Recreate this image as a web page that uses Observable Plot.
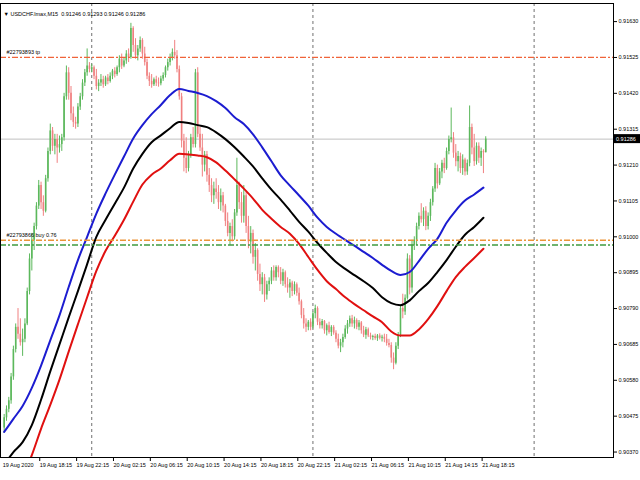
<!DOCTYPE html>
<html><head><meta charset="utf-8">
<script src="https://cdn.jsdelivr.net/npm/d3@7"></script>
<script src="https://cdn.jsdelivr.net/npm/@observablehq/plot@0.6"></script>
<style>body{margin:0;background:#fff}</style>
</head><body><div id="chart"></div>
<script>
// ---- header / labels ----
const headerText = "\u25BC USDCHF.lmax,M15  0.91246 0.91293 0.91246 0.91286";
const tpLabel = "#22793893 tp";
const buyLabel = "#22793866 buy 0.76";
const firstDateLabel = "19 Aug 2020";
const tpPrice = 0.91525;
const buyPrice = 0.90990;
const openLevel = 0.90976;
const lastPrice = 0.91286;

// ---- x axis (bar index, M15 bars from 19 Aug 14:30) ----
const tickIdx = [15,31,47,63,79,95,111,127,143,159,175,191,207];
const tickLabels = ["19 Aug 18:15","19 Aug 22:15","20 Aug 02:15","20 Aug 06:15","20 Aug 10:15","20 Aug 14:15","20 Aug 18:15","20 Aug 22:15","21 Aug 02:15","21 Aug 06:15","21 Aug 10:15","21 Aug 14:15","21 Aug 18:15"];
const daySeparators = [38,134,230];

// ---- y axis ----
const yTicks = [0.91630,0.91525,0.91420,0.91315,0.91210,0.91105,0.91000,0.90895,0.90790,0.90685,0.90580,0.90475,0.90370];

// ---- candles ----
const open = [
0.90440,0.90470,0.90495,0.90520,0.90590,0.90670,0.90735,0.90715,0.90690,0.90700,
0.90745,0.90840,0.90935,0.90990,0.91030,0.91090,0.91150,0.91100,0.91075,0.91170,
0.91250,0.91310,0.91265,0.91285,0.91260,0.91270,0.91290,0.91410,0.91480,0.91420,
0.91360,0.91335,0.91330,0.91380,0.91410,0.91450,0.91480,0.91500,0.91490,0.91495,
0.91470,0.91440,0.91450,0.91460,0.91445,0.91465,0.91455,0.91470,0.91485,0.91475,
0.91495,0.91520,0.91500,0.91515,0.91535,0.91525,0.91610,0.91560,0.91530,0.91550,
0.91575,0.91535,0.91510,0.91470,0.91455,0.91445,0.91460,0.91450,0.91448,0.91462,
0.91472,0.91495,0.91510,0.91525,0.91540,0.91530,0.91490,0.91410,0.91280,0.91230,
0.91200,0.91240,0.91290,0.91270,0.91480,0.91300,0.91260,0.91210,0.91240,0.91180,
0.91150,0.91120,0.91140,0.91130,0.91100,0.91120,0.91090,0.91045,0.91010,0.91030,
0.91000,0.91070,0.91150,0.91100,0.91060,0.91120,0.91030,0.90985,0.91010,0.90940,
0.90960,0.90890,0.90860,0.90880,0.90830,0.90860,0.90870,0.90900,0.90880,0.90910,
0.90895,0.90870,0.90895,0.90860,0.90850,0.90865,0.90840,0.90860,0.90835,0.90810,
0.90770,0.90745,0.90735,0.90750,0.90735,0.90775,0.90790,0.90750,0.90740,0.90752,
0.90725,0.90740,0.90720,0.90735,0.90718,0.90700,0.90680,0.90690,0.90705,0.90730,
0.90745,0.90760,0.90745,0.90755,0.90735,0.90748,0.90725,0.90712,0.90728,0.90710,
0.90705,0.90708,0.90702,0.90710,0.90703,0.90706,0.90700,0.90688,0.90682,0.90645,
0.90630,0.90680,0.90712,0.90790,0.90780,0.90820,0.90935,0.90850,0.90975,0.90990,
0.91030,0.91060,0.91050,0.91075,0.91030,0.91060,0.91100,0.91140,0.91200,0.91155,
0.91190,0.91215,0.91200,0.91250,0.91285,0.91290,0.91245,0.91220,0.91235,0.91200,
0.91225,0.91190,0.91215,0.91320,0.91260,0.91220,0.91265,0.91230,0.91250,0.91246];
const high = [
0.90480,0.90505,0.90530,0.90600,0.90680,0.90745,0.90790,0.90760,0.90730,0.90760,
0.90850,0.90950,0.91010,0.91040,0.91100,0.91165,0.91160,0.91120,0.91180,0.91260,
0.91330,0.91320,0.91300,0.91300,0.91295,0.91300,0.91420,0.91500,0.91495,0.91440,
0.91380,0.91350,0.91390,0.91420,0.91460,0.91490,0.91550,0.91510,0.91505,0.91500,
0.91490,0.91460,0.91475,0.91470,0.91470,0.91475,0.91480,0.91490,0.91495,0.91500,
0.91530,0.91535,0.91525,0.91545,0.91550,0.91625,0.91615,0.91580,0.91560,0.91585,
0.91580,0.91555,0.91520,0.91480,0.91475,0.91465,0.91470,0.91465,0.91470,0.91480,
0.91500,0.91520,0.91535,0.91550,0.91575,0.91545,0.91500,0.91420,0.91300,0.91290,
0.91250,0.91300,0.91320,0.91490,0.91495,0.91320,0.91300,0.91250,0.91250,0.91200,
0.91170,0.91160,0.91170,0.91150,0.91140,0.91130,0.91095,0.91070,0.91040,0.91050,
0.91080,0.91230,0.91160,0.91130,0.91150,0.91130,0.91060,0.91030,0.91020,0.90980,
0.90965,0.90920,0.90895,0.90890,0.90870,0.90880,0.90910,0.90915,0.90915,0.90915,
0.90910,0.90905,0.90900,0.90880,0.90875,0.90870,0.90868,0.90865,0.90850,0.90815,
0.90790,0.90760,0.90755,0.90760,0.90780,0.90800,0.90795,0.90760,0.90758,0.90755,
0.90745,0.90750,0.90740,0.90740,0.90725,0.90715,0.90700,0.90715,0.90740,0.90755,
0.90768,0.90770,0.90765,0.90760,0.90755,0.90752,0.90738,0.90735,0.90733,0.90718,
0.90712,0.90715,0.90714,0.90716,0.90712,0.90715,0.90714,0.90700,0.90690,0.90660,
0.90690,0.90720,0.90800,0.90832,0.90830,0.90950,0.90945,0.90990,0.91000,0.91040,
0.91070,0.91097,0.91085,0.91088,0.91070,0.91110,0.91147,0.91215,0.91210,0.91200,
0.91224,0.91230,0.91260,0.91295,0.91377,0.91305,0.91270,0.91250,0.91245,0.91240,
0.91230,0.91225,0.91383,0.91330,0.91300,0.91275,0.91275,0.91260,0.91255,0.91293];
const low = [
0.90425,0.90460,0.90485,0.90510,0.90580,0.90660,0.90700,0.90680,0.90650,0.90690,
0.90740,0.90830,0.90900,0.90960,0.91020,0.91080,0.91080,0.91060,0.91070,0.91160,
0.91240,0.91250,0.91240,0.91215,0.91245,0.91250,0.91280,0.91400,0.91400,0.91340,
0.91320,0.91315,0.91320,0.91370,0.91400,0.91440,0.91470,0.91480,0.91480,0.91460,
0.91430,0.91425,0.91440,0.91435,0.91440,0.91445,0.91450,0.91460,0.91465,0.91470,
0.91480,0.91490,0.91495,0.91505,0.91510,0.91520,0.91540,0.91520,0.91515,0.91540,
0.91520,0.91500,0.91460,0.91440,0.91435,0.91440,0.91440,0.91438,0.91442,0.91455,
0.91465,0.91485,0.91500,0.91515,0.91520,0.91480,0.91400,0.91260,0.91190,0.91185,
0.91190,0.91230,0.91260,0.91260,0.91290,0.91250,0.91175,0.91190,0.91160,0.91130,
0.91100,0.91095,0.91110,0.91080,0.91075,0.91070,0.91030,0.91000,0.90975,0.90985,
0.90990,0.91060,0.91080,0.91040,0.91040,0.91010,0.90965,0.90950,0.90920,0.90900,
0.90870,0.90840,0.90830,0.90808,0.90815,0.90840,0.90860,0.90870,0.90870,0.90880,
0.90860,0.90855,0.90850,0.90835,0.90820,0.90825,0.90830,0.90826,0.90800,0.90760,
0.90730,0.90720,0.90725,0.90725,0.90730,0.90760,0.90740,0.90730,0.90730,0.90715,
0.90710,0.90715,0.90708,0.90712,0.90690,0.90672,0.90661,0.90675,0.90700,0.90715,
0.90735,0.90735,0.90730,0.90728,0.90725,0.90715,0.90705,0.90700,0.90705,0.90698,
0.90696,0.90697,0.90694,0.90698,0.90692,0.90690,0.90680,0.90675,0.90630,0.90611,
0.90625,0.90670,0.90705,0.90760,0.90770,0.90815,0.90830,0.90835,0.90960,0.90975,
0.91020,0.91040,0.91030,0.91018,0.91020,0.91045,0.91090,0.91130,0.91140,0.91150,
0.91170,0.91185,0.91195,0.91240,0.91275,0.91230,0.91205,0.91190,0.91185,0.91180,
0.91178,0.91180,0.91205,0.91240,0.91206,0.91210,0.91215,0.91206,0.91185,0.91246];
const close = [
0.90470,0.90495,0.90520,0.90590,0.90670,0.90735,0.90715,0.90690,0.90700,0.90745,
0.90840,0.90935,0.90990,0.91030,0.91090,0.91150,0.91100,0.91075,0.91170,0.91250,
0.91310,0.91265,0.91285,0.91260,0.91270,0.91290,0.91410,0.91480,0.91420,0.91360,
0.91335,0.91330,0.91380,0.91410,0.91450,0.91480,0.91500,0.91490,0.91495,0.91470,
0.91440,0.91450,0.91460,0.91445,0.91465,0.91455,0.91470,0.91485,0.91475,0.91495,
0.91520,0.91500,0.91515,0.91535,0.91525,0.91610,0.91560,0.91530,0.91550,0.91575,
0.91535,0.91510,0.91470,0.91455,0.91445,0.91460,0.91450,0.91448,0.91462,0.91472,
0.91495,0.91510,0.91525,0.91540,0.91530,0.91490,0.91410,0.91280,0.91230,0.91200,
0.91240,0.91290,0.91270,0.91480,0.91300,0.91260,0.91210,0.91240,0.91180,0.91150,
0.91120,0.91140,0.91130,0.91100,0.91120,0.91090,0.91045,0.91010,0.91030,0.91000,
0.91070,0.91150,0.91100,0.91060,0.91120,0.91030,0.90985,0.91010,0.90940,0.90960,
0.90890,0.90860,0.90880,0.90830,0.90860,0.90870,0.90900,0.90880,0.90910,0.90895,
0.90870,0.90895,0.90860,0.90850,0.90865,0.90840,0.90860,0.90835,0.90810,0.90770,
0.90745,0.90735,0.90750,0.90735,0.90775,0.90790,0.90750,0.90740,0.90752,0.90725,
0.90740,0.90720,0.90735,0.90718,0.90700,0.90680,0.90690,0.90705,0.90730,0.90745,
0.90760,0.90745,0.90755,0.90735,0.90748,0.90725,0.90712,0.90728,0.90710,0.90705,
0.90708,0.90702,0.90710,0.90703,0.90706,0.90700,0.90688,0.90682,0.90645,0.90630,
0.90680,0.90712,0.90790,0.90780,0.90820,0.90935,0.90850,0.90975,0.90990,0.91030,
0.91060,0.91050,0.91075,0.91030,0.91060,0.91100,0.91140,0.91200,0.91155,0.91190,
0.91215,0.91200,0.91250,0.91285,0.91290,0.91245,0.91220,0.91235,0.91200,0.91225,
0.91190,0.91215,0.91320,0.91260,0.91220,0.91265,0.91230,0.91250,0.91246,0.91286];

// ---- moving-average band lines, read every 4 bars ----
const maIdx = [0,4,8,12,16,20,24,28,32,36,40,44,48,52,56,60,64,68,72,76,80,84,88,92,96,100,104,108,112,116,120,124,128,132,136,140,144,148,152,156,160,164,168,172,176,180,184,188,192,196,200,204,208];
const blueLine = [
0.90429,0.90467,0.90505,0.90558,0.90623,0.90697,0.90770,0.90853,0.90932,0.91000,
0.91068,0.91127,0.91182,0.91235,0.91288,0.91327,0.91359,0.91386,0.91415,0.91433,
0.91427,0.91421,0.91412,0.91397,0.91377,0.91350,0.91330,0.91300,0.91262,0.91221,
0.91180,0.91150,0.91121,0.91091,0.91056,0.91029,0.91009,0.90991,0.90974,0.90956,
0.90938,0.90918,0.90900,0.90888,0.90897,0.90929,0.90965,0.90994,0.91041,0.91077,
0.91106,0.91124,0.91144];
const blackLine = [
0.90332,0.90370,0.90399,0.90449,0.90523,0.90606,0.90685,0.90764,0.90841,0.90920,
0.91000,0.91050,0.91097,0.91144,0.91200,0.91243,0.91277,0.91297,0.91318,0.91336,
0.91333,0.91327,0.91321,0.91306,0.91286,0.91262,0.91235,0.91206,0.91171,0.91138,
0.91109,0.91077,0.91044,0.91015,0.90982,0.90953,0.90926,0.90906,0.90888,0.90870,
0.90850,0.90823,0.90806,0.90800,0.90814,0.90841,0.90865,0.90897,0.90932,0.90971,
0.91006,0.91029,0.91056];
const redLine = [
null,null,0.90294,0.90361,0.90438,0.90508,0.90582,0.90664,0.90744,0.90823,
0.90900,0.90959,0.91003,0.91050,0.91103,0.91153,0.91182,0.91200,0.91224,0.91243,
0.91241,0.91238,0.91233,0.91218,0.91194,0.91168,0.91141,0.91112,0.91079,0.91053,
0.91029,0.91009,0.90979,0.90941,0.90903,0.90870,0.90847,0.90823,0.90803,0.90785,
0.90767,0.90750,0.90723,0.90711,0.90711,0.90729,0.90759,0.90797,0.90841,0.90882,
0.90912,0.90938,0.90965];

// ---- build tables ----
const bars = open.map((o, i) => ({i, open: o, high: high[i], low: low[i], close: close[i]}));
const upBars = bars.filter(d => d.close >= d.open);
const downBars = bars.filter(d => d.close < d.open);
const ma = maIdx.map((x, k) => ({x, blue: blueLine[k], black: blackLine[k], red: redLine[k]}));
const labelMap = new Map(tickIdx.map((d, k) => [d, tickLabels[k]]));

const upColor = "#5cb85c", downColor = "#f08080";
const font = "'Liberation Sans', Arial, sans-serif";

const chart = Plot.plot({
  width: 640, height: 480,
  marginTop: 3, marginBottom: 23, marginLeft: 0, marginRight: 27,
  style: {fontFamily: font, fontSize: "5.5px", background: "#fff", overflow: "visible"},
  x: {domain: [-1.6, 264.45], axis: null},
  y: {domain: [0.90354, 0.91683], axis: null},
  marks: [
    Plot.ruleY([lastPrice], {stroke: "#c0c0c0", strokeWidth: 1}),
    Plot.ruleX(daySeparators, {stroke: "#707070", strokeDasharray: "3,3"}),
    Plot.ruleX(upBars, {x: "i", y1: "low", y2: "high", stroke: upColor, strokeWidth: 1}),
    Plot.ruleX(downBars, {x: "i", y1: "low", y2: "high", stroke: downColor, strokeWidth: 1}),
    Plot.ruleX(upBars, {x: "i", y1: "open", y2: "close", stroke: upColor, strokeWidth: 1.6}),
    Plot.ruleX(downBars, {x: "i", y1: "open", y2: "close", stroke: downColor, strokeWidth: 1.6}),
    Plot.line(ma, {x: "x", y: "blue", stroke: "#1c1cd0", strokeWidth: 2, curve: "monotone-x", clip: true}),
    Plot.line(ma, {x: "x", y: "black", stroke: "#000", strokeWidth: 2, curve: "monotone-x", clip: true}),
    Plot.line(ma.filter(d => d.red != null), {x: "x", y: "red", stroke: "#e01010", strokeWidth: 2, curve: "monotone-x", clip: true}),
    Plot.ruleY([tpPrice], {stroke: "#f0643a", strokeWidth: 1.3, strokeDasharray: "6,2,2,2"}),
    Plot.ruleY([buyPrice], {stroke: "#ec9438", strokeWidth: 1.3, strokeDasharray: "6,2,2,2"}),
    Plot.ruleY([openLevel], {stroke: "#3f9a3f", strokeWidth: 1.3, strokeDasharray: "6,2,2,2"}),
    Plot.text([tpLabel], {frameAnchor: "left", y: tpPrice, dx: 6, dy: -5, textAnchor: "start", fill: "#000", fontSize: 5.5}),
    Plot.text([buyLabel], {frameAnchor: "left", y: buyPrice, dx: 6, dy: -5, textAnchor: "start", fill: "#000", fontSize: 5.5}),
    Plot.text([headerText], {frameAnchor: "top-left", dx: 3, dy: 9, textAnchor: "start", fill: "#000", fontSize: 5.5}),
    Plot.frame({stroke: "#000"}),
    Plot.axisY(yTicks, {anchor: "right", tickSize: 3, tickPadding: 2, tickFormat: d => d.toFixed(5), fontSize: 5.5, stroke: "#000", fill: "#000"}),
    Plot.axisX(tickIdx, {anchor: "bottom", tickSize: 4, tickPadding: 2, tickFormat: d => labelMap.get(d), textAnchor: "start", dx: 1, fontSize: 5.5, stroke: "#000", fill: "#000"}),
    Plot.text([firstDateLabel], {x: 0, frameAnchor: "bottom", dy: 6, dx: -1.5, lineAnchor: "top", textAnchor: "start", fill: "#000", fontSize: 5.5})
  ]
});

// current price box on the price axis
const yScale = chart.scale("y");
const yy = yScale.apply(lastPrice);
const svg = d3.select(chart);
svg.append("rect").attr("x", 614).attr("y", yy - 4.5).attr("width", 26).attr("height", 9).attr("fill", "#000");
svg.append("text").attr("x", 616).attr("y", yy).attr("dy", "0.35em").attr("fill", "#fff")
   .attr("text-anchor", "start")
   .attr("font-family", font).attr("font-size", 5.5).text(lastPrice.toFixed(5));

document.getElementById("chart").append(chart);
</script>
</body></html>
